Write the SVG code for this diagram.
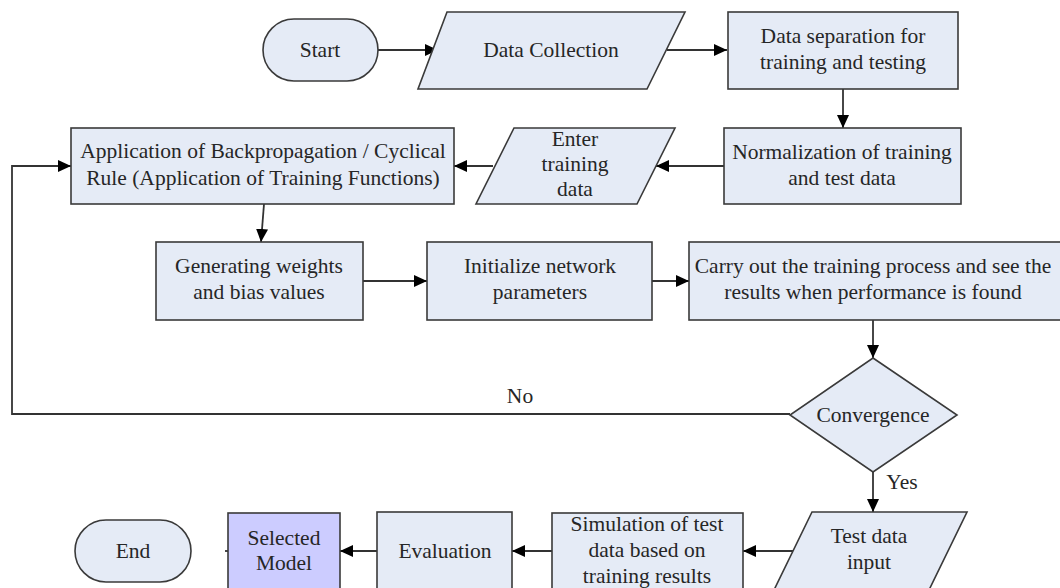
<svg xmlns="http://www.w3.org/2000/svg" width="1060" height="588" viewBox="0 0 1060 588">
<defs>
<style>
.n{fill:#e5ebf6;stroke:#3a3a3a;stroke-width:1.6}
.sel{fill:#ccccff;stroke:#3a3a3a;stroke-width:1.6}
.t{font-family:"Liberation Serif","Times New Roman",serif;font-size:21.5px;fill:#262626;text-anchor:middle}
.c{fill:none;stroke:#333;stroke-width:1.8}
.ca{fill:none;stroke:#333;stroke-width:1.8;marker-end:url(#ah)}
</style>
<marker id="ah" markerUnits="userSpaceOnUse" markerWidth="13" markerHeight="12" refX="13" refY="6" orient="auto">
<path d="M0,0 L13,6 L0,12 z" fill="#000"/>
</marker>
</defs>
<rect width="1060" height="588" fill="#fff"/>
<g id="connectors">
<path class="ca" d="M378,50 L438,50"/>
<path class="ca" d="M667,50 L727,50"/>
<path class="ca" d="M843,89 L843,128"/>
<path class="ca" d="M724,166 L656,166"/>
<path class="ca" d="M493,166 L454,166"/>
<path class="ca" d="M264,204 L261,242"/>
<path class="ca" d="M363,281 L427,281"/>
<path class="ca" d="M652,281 L689,281"/>
<path class="ca" d="M873,320 L873,358"/>
<path class="ca" d="M790,414 L12,414 L12,166 L71,166"/>
<path class="ca" d="M873,472 L873,512"/>
<path class="ca" d="M793,551 L743,551"/>
<path class="ca" d="M552,551 L512,551"/>
<path class="ca" d="M377,551 L340,551"/>
<path class="c" d="M225,551 L228,551"/>
<text class="t" x="520" y="403">No</text>
<text class="t" x="902" y="489">Yes</text>
</g>
<g id="start">
<rect class="n" x="263" y="19" width="115" height="62" rx="31" ry="31"/>
<text class="t" x="320" y="57">Start</text>
</g>
<g id="data-collection">
<polygon class="n" points="447,12 685,12 647,89 418,89"/>
<text class="t" x="551" y="57">Data Collection</text>
</g>
<g id="data-separation">
<rect class="n" x="728" y="12" width="230" height="77"/>
<text class="t" x="843" y="43">Data separation for</text>
<text class="t" x="843" y="69">training and testing</text>
</g>
<g id="normalization">
<rect class="n" x="724" y="128" width="237" height="76"/>
<text class="t" x="842" y="159">Normalization of training</text>
<text class="t" x="842" y="185">and test data</text>
</g>
<g id="enter-training">
<polygon class="n" points="514,128 675,128 637,204 476,204"/>
<text class="t" x="575" y="146">Enter</text>
<text class="t" x="575" y="171">training</text>
<text class="t" x="575" y="196">data</text>
</g>
<g id="backprop">
<rect class="n" x="71" y="128" width="383" height="76"/>
<text class="t" x="263" y="158">Application of Backpropagation / Cyclical</text>
<text class="t" x="263" y="185">Rule (Application of Training Functions)</text>
</g>
<g id="generating">
<rect class="n" x="156" y="242" width="207" height="78"/>
<text class="t" x="259" y="273">Generating weights</text>
<text class="t" x="259" y="299">and bias values</text>
</g>
<g id="initialize">
<rect class="n" x="427" y="242" width="225" height="78"/>
<text class="t" x="540" y="273">Initialize network</text>
<text class="t" x="540" y="299">parameters</text>
</g>
<g id="training-process">
<rect class="n" x="689" y="242" width="380" height="78"/>
<text class="t" x="873" y="273">Carry out the training process and see the</text>
<text class="t" x="873" y="299">results when performance is found</text>
</g>
<g id="convergence">
<polygon class="n" points="873,358 957,415 873,472 790,415"/>
<text class="t" x="873" y="422">Convergence</text>
</g>
<g id="test-data-input">
<polygon class="n" points="812,512 967,512 929,590 774,590"/>
<text class="t" x="869" y="543">Test data</text>
<text class="t" x="869" y="569">input</text>
</g>
<g id="simulation">
<rect class="n" x="552" y="513" width="191" height="77"/>
<text class="t" x="647" y="531">Simulation of test</text>
<text class="t" x="647" y="557">data based on</text>
<text class="t" x="647" y="583">training results</text>
</g>
<g id="evaluation">
<rect class="n" x="377" y="512" width="135" height="78"/>
<text class="t" x="445" y="558">Evaluation</text>
</g>
<g id="selected-model">
<rect class="sel" x="228" y="513" width="112" height="77"/>
<text class="t" x="284" y="545">Selected</text>
<text class="t" x="284" y="570">Model</text>
</g>
<g id="end">
<rect class="n" x="75" y="520" width="116" height="62" rx="31" ry="31"/>
<text class="t" x="133" y="558">End</text>
</g>
</svg>
